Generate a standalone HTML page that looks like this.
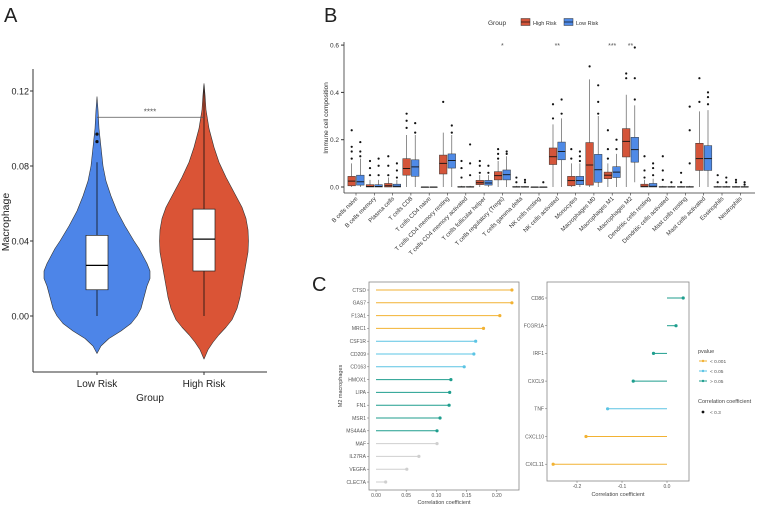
<!DOCTYPE html>
<html><head><meta charset="utf-8"><style>
html,body{margin:0;padding:0;background:#fff;}
svg{display:block;font-family:"Liberation Sans",sans-serif;}
</style></head><body>
<svg id="fig" width="759" height="508" viewBox="0 0 759 508">
<text x="4" y="22" font-size="20" fill="#222">A</text>
<text x="324" y="22" font-size="20" fill="#222">B</text>
<text x="312" y="291" font-size="20" fill="#222">C</text>
<g id="pa"></g>
<g id="pb"></g>
<g id="pc1"></g>
<g id="pc2"></g>
<g id="leg"></g>
</svg>
<script>
// ---------- Panel A data ----------
const aGroups = ["Low Risk","High Risk"];
const aTicks = [0.00,0.04,0.08,0.12];
const aLowY = [-0.02,-0.016,-0.012,-0.008,-0.004,0,0.004,0.008,0.012,0.016,0.02,0.024,0.028,0.032,0.036,0.04,0.048,0.056,0.064,0.072,0.08,0.09,0.1,0.11,0.117];
const aLowW = [0,4,12,24,34,40,44,46,48,50,53,53,50,46,42,37,28,20,14,9,6,4,2,1,0];
const aHighY = [-0.023,-0.018,-0.014,-0.01,-0.006,-0.002,0.004,0.01,0.016,0.022,0.028,0.034,0.04,0.046,0.052,0.058,0.066,0.074,0.082,0.09,0.1,0.11,0.118,0.124];
const aHighW = [0,4,9,15,22,28,33,36,38,40,42,44,44.5,44,42,38,30,22,15,10,5,2,1,0];
const aLowBox = [0,0.014,0.027,0.043,0.082];
const aHighBox = [0,0.024,0.041,0.057,0.123];
const aLowOut = [0.093,0.097];
const aSig = 0.106;

// ---------- Panel B data ----------
const bCats = ["B cells naive","B cells memory","Plasma cells","T cells CD8","T cells CD4 naive","T cells CD4 memory resting","T cells CD4 memory activated","T cells follicular helper","T cells regulatory (Tregs)","T cells gamma delta","NK cells resting","NK cells activated","Monocytes","Macrophages M0","Macrophages M1","Macrophages M2","Dendritic cells resting","Dendritic cells activated","Mast cells resting","Mast cells activated","Eosinophils","Neutrophils"];
const bTicks = [0.0,0.2,0.4,0.6];
// [whiskerLow, q1, median, q3, whiskerHigh]
const bHigh = [[0,0.005,0.025,0.045,0.1],[0,0,0.002,0.01,0.03],[0,0,0.005,0.015,0.04],[0,0.05,0.078,0.12,0.22],[0,0,0,0,0],[0,0.055,0.1,0.135,0.23],[0,0,0,0.002,0.005],[0,0.01,0.018,0.028,0.05],[0,0.03,0.048,0.065,0.11],[0,0,0,0.002,0.005],[0,0,0,0,0],[0,0.095,0.128,0.165,0.265],[0,0.005,0.027,0.045,0.1],[0,0.008,0.093,0.188,0.455],[0,0.035,0.05,0.063,0.1],[0,0.127,0.193,0.247,0.39],[0,0,0.003,0.012,0.03],[0,0,0,0.002,0.005],[0,0,0,0.002,0.005],[0,0.07,0.12,0.185,0.32],[0,0,0,0.002,0.005],[0,0,0,0.002,0.005]];
const bLow = [[0,0.008,0.022,0.05,0.12],[0,0,0.002,0.01,0.03],[0,0,0.003,0.012,0.03],[0,0.045,0.085,0.115,0.22],[0,0,0,0,0],[0,0.08,0.112,0.14,0.22],[0,0,0,0.002,0.005],[0,0.008,0.017,0.028,0.05],[0,0.03,0.052,0.072,0.13],[0,0,0,0.002,0.005],[0,0,0,0,0],[0,0.115,0.15,0.19,0.29],[0,0.01,0.027,0.045,0.1],[0,0.02,0.073,0.138,0.3],[0,0.04,0.063,0.086,0.14],[0.02,0.105,0.158,0.21,0.345],[0,0,0.003,0.015,0.035],[0,0,0,0.002,0.005],[0,0,0,0.002,0.005],[0,0.07,0.12,0.175,0.325],[0,0,0,0.002,0.005],[0,0,0,0.002,0.005]];
const bHighOut = [[0.12,0.15,0.17,0.24],[0.05,0.08,0.11],[0.05,0.09,0.13],[0.25,0.28,0.31],[],[0.36],[0.04,0.08,0.11],[0.06,0.09,0.11],[0.12,0.14,0.16],[0.02,0.04],[],[0.29,0.35],[0.12,0.16],[0.51],[0.12,0.16,0.24],[0.46,0.48],[0.04,0.07,0.13],[0.03,0.07,0.13],[0.02,0.06],[0.36,0.46],[0.02,0.05],[0.02,0.03]];
const bLowOut = [[0.13,0.15,0.19],[0.05,0.09,0.12],[0.04,0.07,0.1],[0.23,0.27],[],[0.23,0.26],[0.05,0.1,0.18],[0.06,0.09],[0.14,0.15],[0.02,0.03],[0.02],[0.31,0.37],[0.11,0.13,0.15],[0.31,0.36,0.43],[0.16,0.2],[0.37,0.46,0.59],[0.05,0.08,0.1],[0.02],[0.1,0.24,0.34],[0.35,0.38,0.4],[0.02,0.04],[0.01,0.02]];
const bSig = {8:"*",11:"**",14:"***",15:"**"};

// ---------- Panel C data ----------
const cLeftGenes = ["CTSD","GAS7","F13A1","MRC1","CSF1R","CD209","CD163","HMOX1","LIPA","FN1","MSR1","MS4A4A","MAF","IL27RA","VEGFA","CLEC7A"];
const cLeftVals = [0.225,0.225,0.205,0.178,0.165,0.162,0.146,0.124,0.122,0.121,0.106,0.101,0.101,0.071,0.051,0.016];
const cLeftP = ["a","a","a","a","b","b","b","c","c","c","c","c","d","d","d","d"];
const cLeftTicks = [0.00,0.05,0.10,0.15,0.20];
const cRightGenes = ["CD86","FCGR1A","IRF1","CXCL9","TNF","CXCL10","CXCL11"];
const cRightVals = [0.036,0.02,-0.03,-0.075,-0.132,-0.18,-0.253];
const cRightP = ["c","c","c","c","b","a","a"];
const cRightTicks = [-0.2,-0.1,0.0];
const pColors = {a:"#f2b233",b:"#5bc4e4",c:"#1f9e8e",d:"#cfcfcf"};

const NS="http://www.w3.org/2000/svg";
function mk(tag, attrs, parent, txt){const e=document.createElementNS(NS,tag);for(const k in attrs)e.setAttribute(k,attrs[k]);if(txt!==undefined)e.textContent=txt;parent.appendChild(e);return e;}

// ===== Panel A =====
(function(){
const g=document.getElementById('pa');
const ay=v=>316-(v/0.04)*75;
const ax=[97,204];
let e=mk('line',{x1:33,y1:69,x2:33,y2:372,stroke:'#333','stroke-width':1},g);

e=mk('line',{x1:33,y1:372,x2:267,y2:372,stroke:'#333','stroke-width':1},g);

aTicks.forEach(t=>{
  mk('line',{x1:30,y1:ay(t),x2:33,y2:ay(t),stroke:'#333'},g);
  e=mk('text',{x:29,y:ay(t)+3.5,'font-size':9,'text-anchor':'end',fill:'#222'},g,t.toFixed(2));
  
});
aGroups.forEach((n,i)=>{
  mk('line',{x1:ax[i],y1:372,x2:ax[i],y2:375,stroke:'#333'},g);
  e=mk('text',{x:ax[i],y:387,'font-size':10,'text-anchor':'middle',fill:'#222'},g,n);
  
});
e=mk('text',{x:150,y:401,'font-size':10,'text-anchor':'middle',fill:'#222'},g,'Group');

e=mk('text',{x:0,y:0,'font-size':10.5,'text-anchor':'middle',fill:'#222',transform:'translate(9,222) rotate(-90)'},g,'Macrophage');

function violin(cx,ys,ws,col,name){
  let d='M'+cx+','+ay(ys[0]);
  for(let i=0;i<ys.length;i++)d+=' L'+(cx+ws[i])+','+ay(ys[i]);
  for(let i=ys.length-1;i>=0;i--)d+=' L'+(cx-ws[i])+','+ay(ys[i]);
  d+='Z';
  const p=mk('path',{d:d,fill:col,stroke:'#333','stroke-width':0.6,'stroke-linejoin':'round'},g);
  
}
function box(cx,b,name){
  mk('line',{x1:cx,y1:ay(b[0]),x2:cx,y2:ay(b[4]),stroke:'#111','stroke-width':0.8},g);
  const r=mk('rect',{x:cx-11,y:ay(b[3]),width:22,height:ay(b[1])-ay(b[3]),fill:'#fff',stroke:'#222','stroke-width':0.7},g);
  
  mk('line',{x1:cx-11,y1:ay(b[2]),x2:cx+11,y2:ay(b[2]),stroke:'#000','stroke-width':1.3},g);
}
violin(ax[0],aLowY,aLowW,'#4d85e8','violin-low-risk');
violin(ax[1],aHighY,aHighW,'#da5436','violin-high-risk');
box(ax[0],aLowBox,'box-low-risk');
box(ax[1],aHighBox,'box-high-risk');
aLowOut.forEach(v=>mk('circle',{cx:ax[0],cy:ay(v),r:1.6,fill:'#111'},g));
e=mk('line',{x1:ax[0],y1:ay(aSig),x2:ax[1],y2:ay(aSig),stroke:'#555','stroke-width':0.8},g);

e=mk('text',{x:150,y:ay(aSig)-3,'font-size':8,'text-anchor':'middle',fill:'#555'},g,'****');

})();

// ===== Panel B =====
(function(){
const g=document.getElementById('pb');
const by=v=>187-(v/0.2)*47.3;
const bx=i=>356+i*18.3;
let e;
e=mk('line',{x1:344,y1:42,x2:344,y2:193,stroke:'#333','stroke-width':0.8},g);

e=mk('line',{x1:344,y1:193,x2:755,y2:193,stroke:'#333','stroke-width':0.8},g);

bTicks.forEach(t=>{
  mk('line',{x1:341,y1:by(t),x2:344,y2:by(t),stroke:'#333'},g);
  e=mk('text',{x:339,y:by(t)+2.5,'font-size':6.5,'text-anchor':'end',fill:'#333'},g,t.toFixed(1));
  
});
e=mk('text',{x:0,y:0,'font-size':6.5,'text-anchor':'middle',fill:'#333',transform:'translate(328,118) rotate(-90)'},g,'Immune cell composition');

function bbox(cx,b,col,outs,name){
  mk('line',{x1:cx,y1:by(b[0]),x2:cx,y2:by(b[4]),stroke:'#444','stroke-width':0.6},g);
  const h=Math.max(by(b[1])-by(b[3]),0.5);
  const r=mk('rect',{x:cx-3.8,y:by(b[3]),width:7.6,height:h,fill:col,stroke:'#333','stroke-width':0.5},g);
  
  mk('line',{x1:cx-3.8,y1:by(b[2]),x2:cx+3.8,y2:by(b[2]),stroke:'#111','stroke-width':0.9},g);
  outs.forEach(v=>mk('circle',{cx:cx,cy:by(v),r:1.1,fill:'#111'},g));
}
bCats.forEach((c,i)=>{
  const cx=bx(i);
  bbox(cx-4.3,bHigh[i],'#d4553a',bHighOut[i],'box-high-'+i);
  bbox(cx+4.3,bLow[i],'#4f8ae6',bLowOut[i],'box-low-'+i);
  mk('line',{x1:cx,y1:193,x2:cx,y2:195.5,stroke:'#333','stroke-width':0.6},g);
  e=mk('text',{x:0,y:0,'font-size':6,'text-anchor':'end',fill:'#333',transform:'translate('+(cx+2)+',199) rotate(-45)'},g,c);
  
  if(bSig[i]){e=mk('text',{x:cx,y:48,'font-size':7,'text-anchor':'middle',fill:'#555'},g,bSig[i]);
    }
});
e=mk('text',{x:488,y:25,'font-size':6.5,fill:'#333'},g,'Group');

[['#d4553a','High Risk',521],['#4f8ae6','Low Risk',564]].forEach(l=>{
  const k=mk('rect',{x:l[2],y:18.5,width:9,height:7,fill:l[0],stroke:'#333','stroke-width':0.5},g);
  
  mk('line',{x1:l[2],y1:22,x2:l[2]+9,y2:22,stroke:'#111','stroke-width':0.7},g);
  e=mk('text',{x:l[2]+12,y:25,'font-size':5.5,fill:'#333'},g,l[1]);
  
});
})();

// ===== Panel C left =====
(function(){
const g=document.getElementById('pc1');
const cx=v=>376+(v/0.05)*30.2;
const cy=i=>290+i*12.8;
let e=mk('rect',{x:369,y:282,width:150,height:208,fill:'none',stroke:'#888','stroke-width':0.8},g);

cLeftGenes.forEach((n,i)=>{
  const col=pColors[cLeftP[i]];
  e=mk('line',{x1:cx(0),y1:cy(i),x2:cx(cLeftVals[i]),y2:cy(i),stroke:col,'stroke-width':1},g);
  
  e=mk('circle',{cx:cx(cLeftVals[i]),cy:cy(i),r:1.6,fill:col},g);
  
  mk('line',{x1:367,y1:cy(i),x2:369,y2:cy(i),stroke:'#666','stroke-width':0.5},g);
  e=mk('text',{x:366,y:cy(i)+1.8,'font-size':5,'text-anchor':'end',fill:'#555'},g,n);
  
});
cLeftTicks.forEach(t=>{
  mk('line',{x1:cx(t),y1:490,x2:cx(t),y2:492,stroke:'#666','stroke-width':0.5},g);
  e=mk('text',{x:cx(t),y:497,'font-size':5,'text-anchor':'middle',fill:'#555'},g,t.toFixed(2));
  
});
e=mk('text',{x:444,y:504,'font-size':5.5,'text-anchor':'middle',fill:'#444'},g,'Correlation coefficient');

e=mk('text',{x:0,y:0,'font-size':5.5,'text-anchor':'middle',fill:'#444',transform:'translate(342,386) rotate(-90)'},g,'M2 macrophages');

})();

// ===== Panel C right =====
(function(){
const g=document.getElementById('pc2');
const cx=v=>667+(v/0.1)*45;
const cy=i=>298+i*27.7;
let e=mk('rect',{x:547,y:282,width:142,height:199,fill:'none',stroke:'#888','stroke-width':0.8},g);

cRightGenes.forEach((n,i)=>{
  const col=pColors[cRightP[i]];
  e=mk('line',{x1:cx(0),y1:cy(i),x2:cx(cRightVals[i]),y2:cy(i),stroke:col,'stroke-width':1},g);
  
  e=mk('circle',{cx:cx(cRightVals[i]),cy:cy(i),r:1.6,fill:col},g);
  
  mk('line',{x1:545,y1:cy(i),x2:547,y2:cy(i),stroke:'#666','stroke-width':0.5},g);
  e=mk('text',{x:544,y:cy(i)+1.8,'font-size':5,'text-anchor':'end',fill:'#555'},g,n);
  
});
cRightTicks.forEach(t=>{
  mk('line',{x1:cx(t),y1:481,x2:cx(t),y2:483,stroke:'#666','stroke-width':0.5},g);
  e=mk('text',{x:cx(t),y:488,'font-size':5,'text-anchor':'middle',fill:'#555'},g,t.toFixed(1));
  
});
e=mk('text',{x:618,y:496,'font-size':5.5,'text-anchor':'middle',fill:'#444'},g,'Correlation coefficient');

})();

// ===== Legend =====
(function(){
const g=document.getElementById('leg');
let e=mk('text',{x:698,y:353,'font-size':5.5,fill:'#444'},g,'pvalue');

[['a','< 0.001',361],['b','< 0.05',371],['c','> 0.05',381]].forEach(l=>{
  e=mk('line',{x1:699,y1:l[2],x2:707,y2:l[2],stroke:pColors[l[0]],'stroke-width':1},g);
  
  mk('circle',{cx:703,cy:l[2],r:1.2,fill:pColors[l[0]]},g);
  e=mk('text',{x:710,y:l[2]+1.8,'font-size':4.8,fill:'#555'},g,l[1]);
  
});
e=mk('text',{x:698,y:403,'font-size':5.5,fill:'#444'},g,'Correlation coefficient');

mk('circle',{cx:703,cy:412,r:1.4,fill:'#111'},g);
e=mk('text',{x:710,y:413.8,'font-size':4.8,fill:'#555'},g,'< 0.3');

})();
</script>
</body></html>
